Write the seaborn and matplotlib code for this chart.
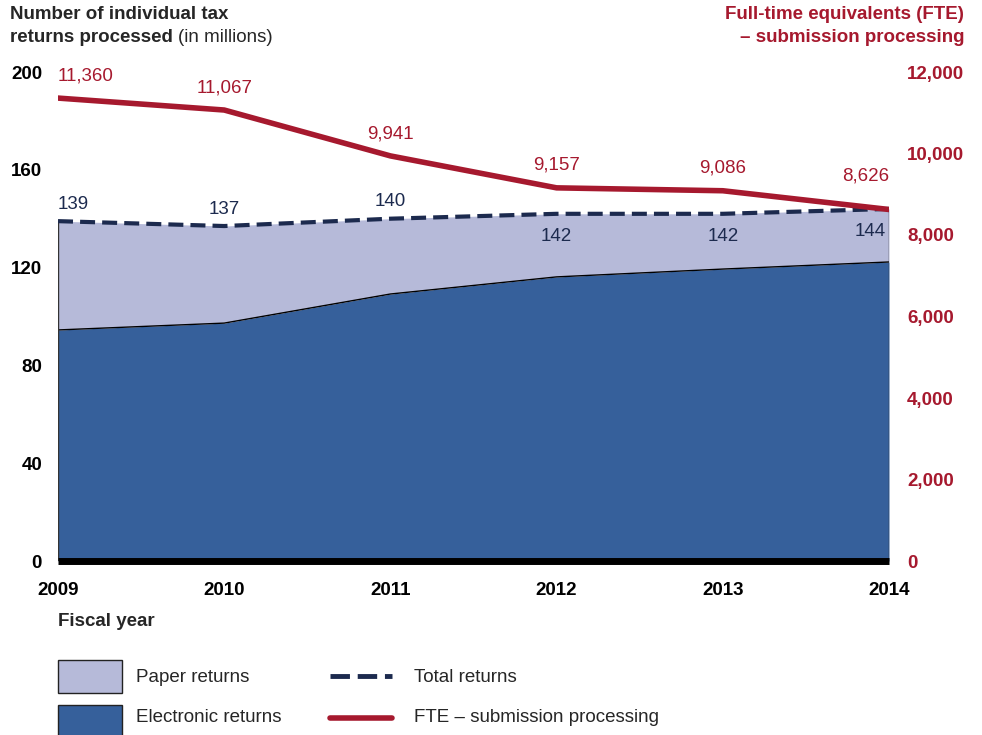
import matplotlib
matplotlib.use("Agg")
import matplotlib.pyplot as plt
import seaborn as sns
import pandas as pd
from matplotlib.patches import Rectangle
from matplotlib.lines import Line2D

years = [2009, 2010, 2011, 2012, 2013, 2014]
electronic = [94.5, 97.3, 109.2, 116.2, 119.4, 122.3]
total = [139, 137, 140, 142, 142, 144]
fte = [11360, 11067, 9941, 9157, 9086, 8626]
left_ticks = [0, 40, 80, 120, 160, 200]
right_ticks = [0, 2000, 4000, 6000, 8000, 10000, 12000]

df = pd.DataFrame({"year": years, "electronic": electronic,
                   "total": total, "fte": fte})

RED = "#A6192E"
NAVY = "#1C2A4E"
BLUE = "#36609B"
PAPER = "#B6BAD9"
FS = 13.5

sns.set_theme(style="white")
plt.rcParams["font.family"] = ["Liberation Sans", "DejaVu Sans"]

fig = plt.figure(figsize=(9.82, 7.35), dpi=100)
ax = fig.add_axes([58 / 982, 1 - 561 / 735, (889 - 58) / 982, (561 - 72) / 735])

ax.fill_between(df["year"], 0, df["electronic"], color=BLUE, lw=0, zorder=1)
ax.fill_between(df["year"], df["electronic"], df["total"], color=PAPER, lw=0, zorder=1)
sns.lineplot(data=df, x="year", y="electronic", ax=ax, color="black", lw=1, zorder=2)
ax.vlines([years[0], years[-1]], 0, [total[0], total[-1]], color="#333333", lw=1, zorder=2)
sns.lineplot(data=df, x="year", y="total", ax=ax, color=NAVY, lw=3,
             dashes=False, zorder=3)
ax.lines[-1].set_linestyle((0, (3.6, 1.7)))

ax.set_xlim(years[0], years[-1])
ax.set_ylim(0, 200)
ax.set_yticks(left_ticks)
ax.set_xticks(years)
ax.set_xlabel("")
ax.set_ylabel("")
for s in ["top", "right", "left"]:
    ax.spines[s].set_visible(False)
ax.spines["bottom"].set_linewidth(5)
ax.spines["bottom"].set_color("black")
ax.spines["bottom"].set_capstyle("butt")
ax.spines["bottom"].set_zorder(5)
ax.tick_params(axis="y", length=0, pad=11.5, labelsize=FS)
ax.tick_params(axis="x", length=0, pad=15, labelsize=FS)
for t in ax.get_yticklabels() + ax.get_xticklabels():
    t.set_fontweight("bold")
    t.set_color("black")

# labels for total returns
offs = [(0, 6, "bottom", "left"), (0, 6, "bottom", "center"), (0, 6, "bottom", "center"),
        (0, -10, "top", "center"), (0, -10, "top", "center"), (-2, -10, "top", "right")]
for x, v, (dx, dy, va, ha) in zip(years, total, offs):
    ax.annotate(f"{v}", (x, v), xytext=(dx, dy), textcoords="offset points",
                ha=ha, va=va, fontsize=FS, color=NAVY)

ax2 = ax.twinx()
sns.lineplot(data=df, x="year", y="fte", ax=ax2, color=RED, lw=4, zorder=4)
ax2.set_ylim(0, 12000)
ax2.set_yticks(right_ticks)
ax2.set_yticklabels([f"{v:,}" for v in right_ticks])
ax2.set_ylabel("")
for s in ["top", "right", "left", "bottom"]:
    ax2.spines[s].set_visible(False)
ax2.tick_params(axis="y", length=0, pad=13, labelsize=FS, colors=RED)
for t in ax2.get_yticklabels():
    t.set_fontweight("bold")
fte_ha = ["left", "center", "center", "center", "center", "right"]
fte_dy = [10, 10, 10, 10, 10, 18]
fte_dx = [0, 0, 0, 0, 0, 0]
for x, v, ha, dx, dy in zip(years, fte, fte_ha, fte_dx, fte_dy):
    ax2.annotate(f"{v:,}", (x, v), xytext=(dx, dy), textcoords="offset points",
                 ha=ha, va="bottom", fontsize=FS, color=RED)

# axis titles
fig.text(10 / 982, 1 - 6 / 735, "Number of individual tax", fontsize=FS,
         fontweight="bold", va="top", ha="left")
t_bold = fig.text(10 / 982, 1 - 29 / 735, "returns processed", fontsize=FS,
                  fontweight="bold", va="top", ha="left")
fig.canvas.draw()
bb = t_bold.get_window_extent()
fig.text((bb.x1 + 5) / 982, 1 - 29 / 735, "(in millions)", fontsize=FS,
         va="top", ha="left")
fig.text(964 / 982, 1 - 6 / 735, "Full-time equivalents (FTE)", fontsize=FS,
         fontweight="bold", va="top", ha="right", color=RED)
fig.text(964 / 982, 1 - 29 / 735, "\u2013 submission processing", fontsize=FS,
         fontweight="bold", va="top", ha="right", color=RED)
fig.text(58 / 982, 1 - 621 / 735, "Fiscal year", fontsize=FS,
         fontweight="bold", va="center", ha="left")

# legend
def px(x, y):
    return x / 982, 1 - y / 735

fig.patches.append(Rectangle(px(58, 693), 64 / 982, 33 / 735, transform=fig.transFigure,
                             facecolor=PAPER, edgecolor="#222222", lw=1))
fig.patches.append(Rectangle(px(58, 740), 64 / 982, 35 / 735, transform=fig.transFigure,
                             facecolor=BLUE, edgecolor="#222222", lw=1))
fig.text(*px(136, 677), "Paper returns", fontsize=FS, va="center", ha="left")
fig.text(*px(136, 718), "Electronic returns", fontsize=FS, va="center", ha="left")
x0, y0 = px(330, 676)
x1, _ = px(392, 676)
fig.lines.append(Line2D([x0, x1], [y0, y0], transform=fig.transFigure, color=NAVY,
                        lw=3.5, linestyle=(0, (4.0, 1.6))))
x0, y0 = px(330, 718)
fig.lines.append(Line2D([x0, x1], [y0, y0], transform=fig.transFigure, color=RED, lw=4))
fig.text(*px(414, 677), "Total returns", fontsize=FS, va="center", ha="left")
fig.text(*px(414, 718), "FTE \u2013 submission processing", fontsize=FS,
         va="center", ha="left")

fig.savefig("out.png", dpi=100)
